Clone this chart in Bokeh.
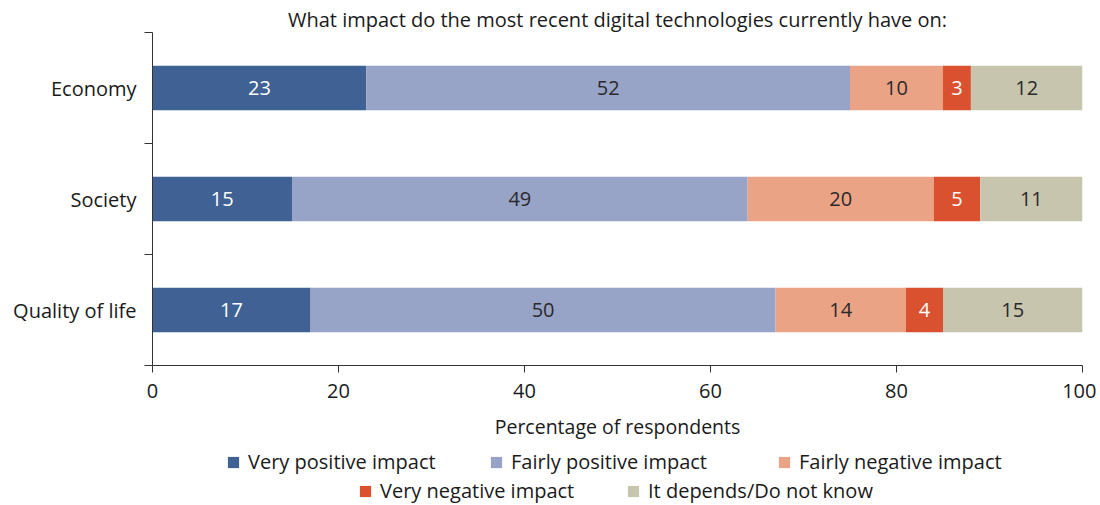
from bokeh.plotting import figure
from bokeh.layouts import column
from bokeh.models import ColumnDataSource, FixedTicker, Legend, LegendItem, Range1d
from bokeh.core.properties import value
from bokeh.embed import file_html
from bokeh.resources import INLINE

# ---- data ----
categories = ["Quality of life", "Society", "Economy"]
very_positive = [17, 15, 23]
fairly_positive = [50, 49, 52]
fairly_negative = [14, 20, 10]
very_negative = [4, 5, 3]
depends = [15, 11, 12]
series_names = ["Very positive impact", "Fairly positive impact", "Fairly negative impact",
                "Very negative impact", "It depends/Do not know"]
x_ticks = [0, 20, 40, 60, 80, 100]
title_text = "What impact do the most recent digital technologies currently have on:"
x_label = "Percentage of respondents"

# ---- styles ----
colors = ["#3F6193", "#97A4C7", "#EBA386", "#D9512F", "#C8C5AF"]
label_colors = ["#FFFFFF", "#2A2A2A", "#2A2A2A", "#FFFFFF", "#2A2A2A"]
FONT = "Open Sans"
TXT = "#1a1a1a"
series = [very_positive, fairly_positive, fairly_negative, very_negative, depends]
# legend entry positions (screen px relative to legend frame's lower-left)
legend_locs = [(74, 30), (337, 30), (625, 30), (206, 1), (474, 1)]

y_pos = [i + 0.5 for i in range(len(categories))]

p = figure(width=1096, height=448, x_range=Range1d(0, 100), y_range=Range1d(0, len(categories)),
           output_backend="svg", toolbar_location=None,
           min_border_left=152, min_border_right=14, min_border_top=32, min_border_bottom=83)
p.outline_line_color = None
p.xgrid.visible = False
p.ygrid.visible = False

p.title.text = title_text
p.title.align = "center"
p.title.text_font = FONT
p.title.text_font_size = "20px"
p.title.text_font_style = "normal"
p.title.text_color = TXT
p.title.standoff = 0
p.title.offset = 0

lefts = [0] * len(categories)
for vals, col, lcol in zip(series, colors, label_colors):
    rights = [l + v for l, v in zip(lefts, vals)]
    mids = [(l + r) / 2 for l, r in zip(lefts, rights)]
    src = ColumnDataSource(dict(y=y_pos, left=lefts, right=rights, mid=mids,
                                txt=[str(v) for v in vals]))
    p.hbar(y="y", left="left", right="right", height=0.4, source=src,
           fill_color=col, line_color=None)
    p.text(x="mid", y="y", text="txt", source=src, text_align="center",
           text_baseline="middle", text_font=value(FONT), text_font_size="20px",
           text_color=lcol)
    lefts = rights

# axes
xa = p.xaxis[0]
xa.ticker = FixedTicker(ticks=x_ticks)
xa.axis_label = x_label
xa.axis_label_text_font = FONT
xa.axis_label_text_font_size = "19.5px"
xa.axis_label_text_font_style = "normal"
xa.axis_label_text_color = TXT
xa.axis_label_standoff = 12
xa.major_label_text_font = FONT
xa.major_label_text_font_size = "20px"
xa.major_label_text_color = TXT
xa.major_label_standoff = 11
xa.major_tick_out = 7
xa.major_tick_in = 0
xa.minor_tick_out = 0
xa.minor_tick_in = 0
xa.axis_line_color = "#333333"
xa.major_tick_line_color = "#333333"

ya = p.yaxis[0]
ya.ticker = FixedTicker(ticks=y_pos, minor_ticks=list(range(len(categories) + 1)))
ya.major_label_overrides = {y: c for y, c in zip(y_pos, categories)}
ya.major_label_text_font = FONT
ya.major_label_text_font_size = "20px"
ya.major_label_text_color = TXT
ya.major_label_standoff = 8
ya.major_tick_out = 0
ya.major_tick_in = 0
ya.minor_tick_out = 8
ya.minor_tick_in = 0
ya.minor_tick_line_color = "#333333"
ya.axis_line_color = "#333333"

# ---- legend strip ----
lg_fig = figure(width=1096, height=57, x_range=Range1d(0, 1), y_range=Range1d(0, 1),
                output_backend="svg", toolbar_location=None,
                min_border_left=0, min_border_right=0, min_border_top=0, min_border_bottom=0)
lg_fig.axis.visible = False
lg_fig.grid.visible = False
lg_fig.outline_line_color = None

for col, name, loc in zip(colors, series_names, legend_locs):
    # off-range placeholder bar: only its legend swatch is visible
    dummy = ColumnDataSource(dict(y=[-5], left=[-5], right=[-4]))
    r = lg_fig.hbar(y="y", left="left", right="right", height=0.4, source=dummy,
                    fill_color=col, line_color=None)
    lg_fig.add_layout(Legend(items=[LegendItem(label=name, renderers=[r])],
                             orientation="horizontal", location=loc,
                             label_text_font=FONT, label_text_font_size="20px",
                             label_text_color=TXT, glyph_width=14, glyph_height=14,
                             label_standoff=8, padding=0, margin=0,
                             border_line_color=None, background_fill_alpha=0,
                             label_height=20))

layout = column(p, lg_fig, spacing=0)
open("out.html", "w").write(file_html(layout, INLINE))
